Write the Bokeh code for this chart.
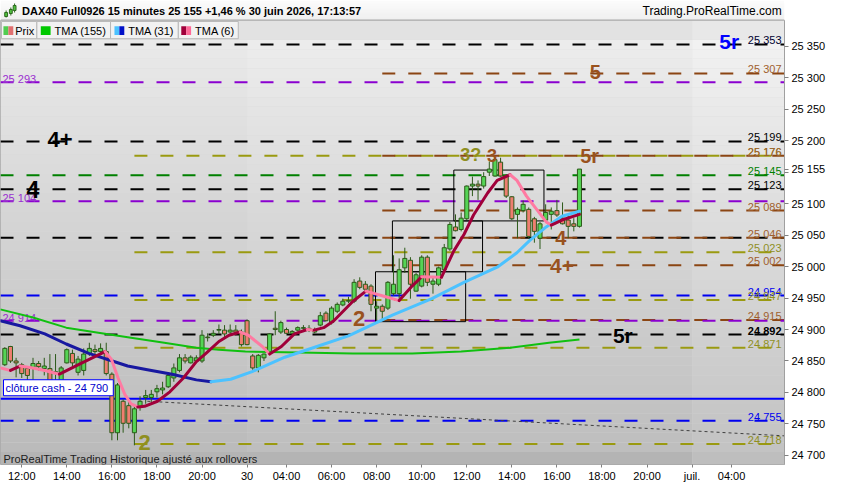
from bokeh.plotting import figure
from bokeh.models import Range1d, FixedTicker, Label
from bokeh.layouts import column
from bokeh.embed import file_html
from bokeh.resources import INLINE
from bokeh.core.properties import value

FONT = "Liberation Sans"

title_text = "DAX40 Full0926 15 minutes 25 155 +1,46 % 30 juin 2026, 17:13:57"
site_text = "Trading.ProRealTime.com"
footer_text = "ProRealTime Trading  Historique ajusté aux rollovers"
cash_text = "clôture cash -  24 790"
cash_price = 24790
last_price = 25155

# 15-minute bars, index 0 = 29 juin 11:15
bar_open = [24844, 24873, 24850, 24844, 24838, 24839, 24846, 24838, 24838, 24830,
            24815, 24847, 24862, 24832, 24835, 24862, 24868, 24865, 24865, 24829,
            24736, 24786, 24779, 24736, 24777, 24792, 24792, 24801, 24804, 24809,
            24823, 24835, 24855, 24847, 24850, 24850, 24888, 24891, 24899, 24899,
            24896, 24899, 24896, 24914, 24858, 24839, 24855, 24865, 24902, 24896,
            24900, 24894, 24899, 24902, 24902, 24896, 24907, 24926, 24911, 24929,
            24939, 24945, 24945, 24977, 24972, 24969, 24934, 24937, 24934, 24957,
            24957, 24998, 25010, 24961, 24969, 25015, 24972, 24972, 24995, 25028,
            25063, 25059, 25076, 25128, 25131, 25128, 25150, 25144, 25166, 25144,
            25111, 25083, 25089, 25091, 25076, 25045, 25074, 25083, 25089, 25077,
            25074, 25068, 25064]
bar_high = [24872, 24874, 24855, 24847, 24842, 24855, 24850, 24855, 24861, 24861,
            24842, 24870, 24868, 24858, 24870, 24879, 24876, 24878, 24879, 24832,
            24815, 24789, 24785, 24779, 24794, 24804, 24804, 24812, 24817, 24832,
            24846, 24861, 24861, 24859, 24859, 24899, 24894, 24899, 24908, 24907,
            24908, 24907, 24900, 24916, 24861, 24861, 24862, 24894, 24929, 24914,
            24903, 24899, 24905, 24907, 24907, 24903, 24928, 24929, 24937, 24943,
            24949, 24952, 24980, 24983, 24977, 24972, 24945, 24940, 24977, 25018,
            25013, 25030, 25015, 24990, 25018, 25018, 24983, 25000, 25036, 25071,
            25083, 25086, 25129, 25143, 25137, 25150, 25167, 25173, 25173, 25147,
            25112, 25094, 25105, 25094, 25079, 25071, 25099, 25094, 25106, 25102,
            25083, 25077, 25155]
bar_low = [24842, 24847, 24824, 24823, 24817, 24817, 24835, 24827, 24812, 24812,
           24812, 24846, 24842, 24827, 24827, 24858, 24861, 24861, 24827, 24724,
           24724, 24736, 24743, 24716, 24771, 24782, 24785, 24792, 24797, 24807,
           24817, 24832, 24846, 24846, 24847, 24847, 24881, 24888, 24893, 24888,
           24891, 24891, 24873, 24875, 24836, 24832, 24850, 24862, 24891, 24893,
           24893, 24893, 24897, 24899, 24896, 24894, 24905, 24913, 24908, 24926,
           24937, 24942, 24942, 24964, 24961, 24929, 24914, 24914, 24931, 24954,
           24949, 24990, 24949, 24960, 24967, 24969, 24957, 24969, 24992, 25025,
           25056, 25056, 25074, 25112, 25106, 25124, 25144, 25143, 25143, 25109,
           25074, 25045, 25086, 25045, 25038, 25028, 25071, 25059, 25079, 25067,
           25045, 25056, 25062]
bar_close = [24870, 24850, 24847, 24830, 24827, 24846, 24841, 24842, 24817, 24833,
             24839, 24868, 24847, 24853, 24861, 24870, 24865, 24870, 24830, 24736,
             24812, 24751, 24751, 24774, 24786, 24795, 24797, 24806, 24807, 24827,
             24839, 24855, 24850, 24856, 24855, 24891, 24887, 24894, 24900, 24893,
             24899, 24896, 24876, 24876, 24839, 24859, 24861, 24893, 24900, 24911,
             24894, 24897, 24903, 24903, 24899, 24899, 24922, 24914, 24934, 24940,
             24945, 24946, 24975, 24967, 24964, 24940, 24937, 24929, 24975, 24972,
             24995, 25013, 24972, 24987, 25015, 24975, 24977, 24998, 25030, 25067,
             25057, 25077, 25128, 25131, 25128, 25143, 25155, 25170, 25144, 25112,
             25076, 25091, 25099, 25048, 25056, 25068, 25086, 25088, 25082, 25068,
             25064, 25064, 25155]

session_starts = [43, 122]  # first bar of 30 juin and of 1 juil.

time_ticks = [3, 11, 19, 27, 35, 43, 50, 58, 66, 74, 82, 90, 98, 106, 114, 122, 129]
time_labels = ["12:00", "14:00", "16:00", "18:00", "20:00", "30", "04:00", "06:00",
               "08:00", "10:00", "12:00", "14:00", "16:00", "18:00", "20:00", "juil.", "04:00"]

price_ticks = [24700, 24750, 24800, 24850, 24900, 24950, 25000, 25050, 25100,
               25150, 25200, 25250, 25300, 25350]
price_hidden = [25150]   # covered by the last-price marker

# moving averages (bar index, price)
tma155_x = [-0.8, 5.0, 10.9, 16.6, 22.4, 28.3, 34.0, 38.0, 42.7, 49.7, 61.8, 72.3, 81.0, 89.7, 96.6, 102]
tma155_y = [24932, 24919, 24903, 24895, 24887, 24879, 24871, 24868, 24865, 24864, 24862, 24862, 24865, 24871, 24879, 24884]

tma31_x = [-0.8, 2.7, 7.1, 10.9, 14.9, 18.4, 21.8, 25.3, 29.7, 34.0, 36.6, 40.1, 43.9, 49.7, 55.4,
           61.0, 68.8, 75.8, 81.5, 87.4, 90.9, 93.1, 96.1, 98.9, 102]
tma31_y = [24914, 24906, 24893, 24877, 24862, 24852, 24842, 24836, 24829, 24820, 24817, 24821, 24833, 24856, 24873,
           24890, 24923, 24949, 24975, 24999, 25022, 25041, 25063, 25080, 25088]

tma6_x = [-0.8, 1.0, 2.7, 5.0, 7.1, 9.7, 13.7, 17.8, 18.9, 20.1, 21.3, 22.4, 23.6, 24.8, 27.1, 29.3,
          31.7, 34.0, 35.7, 38.0, 39.8, 41.8, 43.2, 45.7, 47.0, 49.1, 51.4, 53.7, 54.9, 56.6, 58.4,
          61.8, 64.1, 67.6, 70.0, 72.3, 74.0, 77.5, 79.7, 81.5, 83.2, 85.7, 87.4, 89.7, 90.9, 92.6,
          94.4, 96.1, 97.0, 98.9, 102]
tma6_y = [24839, 24835, 24842, 24839, 24835, 24829, 24847, 24865, 24853, 24823, 24797, 24782, 24777, 24778, 24786, 24801,
          24823, 24849, 24862, 24881, 24891, 24896, 24891, 24873, 24861, 24873, 24893, 24900, 24899, 24903, 24914,
          24945, 24961, 24952, 24946, 24969, 24984, 24983, 25025, 25051, 25082, 25117, 25137, 25146, 25137, 25112,
          25091, 25071, 25066, 25074, 25083]

BLACK, BROWN, OLIVE, PURPLE, BLUE, GREEN = "#000000", "#8b4513", "#9a9a10", "#8a00d0", "#0000f0", "#008000"
BROWN_T, OLIVE_T, PURPLE_T = "#a0602d", "#8f8f1f", "#9a30d0"

# horizontal levels: price, line colour, first bar (None = whole width), label side, label colour
level_price = [25353, 25307, 25293, 25199, 25176, 25176, 25145, 25123, 25104, 25089, 25046, 25046,
               25023, 25002, 24954, 24947, 24915, 24914, 24892, 24871, 24755, 24718]
level_color = [BLACK, BROWN, PURPLE, BLACK, OLIVE, BROWN, GREEN, BLACK, PURPLE, BROWN, BLACK, BROWN,
               OLIVE, BROWN, BLUE, OLIVE, BROWN, PURPLE, BLACK, OLIVE, BLUE, OLIVE]
level_start = [None, 67, None, None, 23, 67, None, None, None, 67, None, 67,
               23, 67, None, 23, 67, None, None, 23, None, 23]
level_side = ["right", "right", "left", "right", "right", "right", "right", "right", "left", "right", None, "right",
              "right", "right", "right", "right", "right", "left", "right", "right", "right", "right"]
level_tcolor = ["#000030", BROWN_T, PURPLE_T, BLACK, OLIVE_T, BROWN_T, GREEN, BLACK, PURPLE_T, BROWN_T, BLACK, BROWN_T,
                OLIVE_T, BROWN_T, BLUE, OLIVE_T, BROWN_T, PURPLE_T, BLACK, OLIVE_T, BLUE, OLIVE_T]
level_bold = [24892]

# wave counts
wave_text = ["5r", "5", "4+", "3?", "3", "5r", "4", "4", "4+", "2", "5r", "2"]
wave_x = [128.6, 104.8, 9.8, 82.7, 86.5, 103.8, 5.0, 98.7, 98.9, 62.9, 109.7, 24.8]
wave_y = [25357, 25310, 25202, 25177, 25177, 25176, 25123, 25045, 25001, 24917, 24890, 24721]
wave_color = ["#0000ff", "#99521e", BLACK, "#8f8f1f", "#99521e", "#99521e", BLACK, "#99521e",
              "#99521e", "#99521e", BLACK, "#8f8f1f"]
wave_size = ["21px", "20px", "22px", "18px", "18px", "20px", "23px", "20px", "21px", "22px", "21px", "22px"]

# rectangles
box_left = [65.8, 68.8, 79.7]
box_right = [81.8, 84.8, 95.7]
box_bottom = [24912.5, 24991.8, 25072.6]
box_top = [24991.8, 25072.6, 25153.4]

# trend line
trend_x = [25.3, 138.4]
trend_y = [24786, 24731]

# ---------------------------------------------------------------- layout
W = 834
HEAD_H = 20
MAIN_H = 484 - HEAD_H
X0, X1 = -0.77, 138.4
Y_BOT, Y_TOP = 24685.5, 25391.1


def rx(px):
    return X0 + px * (X1 - X0) / 798.0


def ry(py):
    return Y_TOP - (py - 20) * (Y_TOP - Y_BOT) / 463.0


def gray(v):
    v = max(0, min(255, int(round(v))))
    return "#%02x%02x%02x" % (v, v, v)


def fmt(v):
    return f"{int(v):,}".replace(",", " ")


# header ----------------------------------------------------------------
h = figure(width=W, height=HEAD_H, x_range=Range1d(0, W), y_range=Range1d(0, HEAD_H),
           toolbar_location=None, output_backend="svg", min_border=0,
           x_axis_location=None, y_axis_location=None, outline_line_color=None)
h.grid.visible = False
hb, ht, hc = [], [], []
for k in range(HEAD_H):
    ht.append(HEAD_H - k)
    hb.append(HEAD_H - k - 1)
    hc.append(gray(251 - 17 * k / (HEAD_H - 1)))
h.quad(left=0, right=W, top=ht, bottom=hb, fill_color=hc, line_color=None)
h.segment(x0=0, y0=0.5, x1=W, y1=0.5, line_color="#a8a8a8", line_width=1)
h.segment(x0=[6, 11, 15], y0=[3, 5, 8], x1=[6, 11, 15], y1=[10, 13, 17], line_color="#2e6a1e", line_width=1)
h.quad(left=[4.5, 9.5, 13.5], right=[7.5, 12.5, 16.5], bottom=[4, 7, 10], top=[8, 11, 15],
       fill_color="#50c040", line_color="#2e6a1e")
h.text(x=[23], y=[10], text=[title_text], text_font=value(FONT), text_font_size="11px",
       text_font_style="bold", text_baseline="middle", text_color="#000000")
h.text(x=[W - 3], y=[10], text=[site_text], text_font=value(FONT), text_font_size="12px",
       text_align="right", text_baseline="middle", text_color="#000000")

# main chart --------------------------------------------------------------
p = figure(width=W, height=MAIN_H, x_range=Range1d(X0, X1), y_range=Range1d(Y_BOT, Y_TOP),
           y_axis_location="right", toolbar_location=None, output_backend="svg",
           min_border_left=0, min_border_top=0, min_border_right=50, min_border_bottom=17,
           background_fill_color="#d8d8d8", border_fill_color="white",
           outline_line_color="#a8a8a8")
p.grid.visible = False

# background gradient by day
cols = [(X0, session_starts[0], -3), (session_starts[0], session_starts[1], 0), (session_starts[1], X1, 5)]
L, R, B, T, C = [], [], [], [], []
for (xa, xb, off) in cols:
    for k in range(43):
        py0 = 40 + 10 * k
        L.append(xa); R.append(xb)
        T.append(ry(py0)); B.append(ry(py0 + 10))
        C.append(gray(236 - 46 * k / 42 + off))
foot = [(X0, session_starts[1], 0), (session_starts[1], X1, 10)]
for (xa, xb, off) in foot:
    L.append(xa); R.append(xb); T.append(ry(470)); B.append(ry(483)); C.append(gray(180 + off))
    L.append(xa); R.append(xb); T.append(ry(20)); B.append(ry(40)); C.append(gray(226 + off * 0.6))
p.quad(left=L, right=R, top=T, bottom=B, fill_color=C, line_color=None)

# levels
lx0 = [X0 if s is None else s for s in level_start]
p.segment(x0=lx0, y0=level_price, x1=[X1] * len(level_price), y1=level_price,
          line_color=level_color, line_width=2, line_dash="13 13")
p.segment(x0=[X0], y0=[cash_price], x1=[X1], y1=[cash_price], line_color="#0000ff", line_width=2)
p.line(trend_x, trend_y, line_color="#404040", line_width=1, line_dash="3 3")

# level labels
for side in ("right", "left"):
    idx = [k for k in range(len(level_price)) if level_side[k] == side]
    for bold in (False, True):
        sel = [k for k in idx if (level_price[k] in level_bold) == bold]
        if not sel:
            continue
        p.text(x=[X1 if side == "right" else X0] * len(sel), y=[level_price[k] for k in sel],
               text=[fmt(level_price[k]) for k in sel], text_color=[level_tcolor[k] for k in sel],
               text_font=value(FONT), text_font_size="11px",
               text_font_style="bold" if bold else "normal",
               text_align="right" if side == "right" else "left", text_baseline="alphabetic",
               x_offset=-3 if side == "right" else 2, y_offset=-4 if side == "right" else -3)

# rectangles
p.quad(left=box_left, right=box_right, bottom=box_bottom, top=box_top,
       fill_color=None, line_color="#000000", line_width=1)

# candles
n = len(bar_open)
xi = list(range(n))
p.segment(x0=xi, y0=bar_low, x1=xi, y1=bar_high, line_color="#2d5a1a", line_width=1)
body_top = [max(o, c) for o, c in zip(bar_open, bar_close)]
body_bot = [min(o, c) for o, c in zip(bar_open, bar_close)]
body_col = ["#55d455" if c >= o else "#ee7e70" for o, c in zip(bar_open, bar_close)]
p.vbar(x=xi, top=body_top, bottom=body_bot, width=0.72, fill_color=body_col,
       line_color="#2d5a1a", line_width=1)


def colored_runs(xs, ys, up_c, down_c):
    out = []
    cx, cy, cc = [xs[0]], [ys[0]], None
    for k in range(1, len(xs)):
        c = up_c if ys[k] >= ys[k - 1] else down_c
        if cc is None or c == cc:
            cx.append(xs[k]); cy.append(ys[k]); cc = c
        else:
            out.append((cx, cy, cc))
            cx, cy, cc = [xs[k - 1], xs[k]], [ys[k - 1], ys[k]], c
    out.append((cx, cy, cc))
    return out


p.line(tma155_x, tma155_y, line_color="#10c010", line_width=2, line_join="round")
for (sx, sy, c) in colored_runs(tma31_x, tma31_y, "#4cc2ff", "#1818a0"):
    p.line(sx, sy, line_color=c, line_width=3, line_join="round", line_cap="round")
for (sx, sy, c) in colored_runs(tma6_x, tma6_y, "#a0003a", "#ff7aa2"):
    p.line(sx, sy, line_color=c, line_width=3, line_join="round", line_cap="round")

# wave labels
p.text(x=wave_x, y=wave_y, text=wave_text, text_color=wave_color, text_font=value(FONT),
       text_font_size=wave_size, text_font_style="bold", text_align="center", text_baseline="middle")

# legend row
lg_l = [1, 37, 112, 181]
lg_r = [37, 112, 181, 242]
p.quad(left=[rx(v) for v in lg_l], right=[rx(v) for v in lg_r], top=ry(21), bottom=ry(39),
       fill_color="#f2f2f2", line_color="#b8b8b8")
ic_l = [3, 8, 41, 116, 121, 184, 189]
ic_r = [8, 13, 51, 121, 126, 189, 194]
ic_c = ["#50cc50", "#e07070", "#00c800", "#4cc2ff", "#0010c8", "#a0003a", "#ff6a98"]
p.quad(left=[rx(v) for v in ic_l], right=[rx(v) for v in ic_r], top=ry(26), bottom=ry(35),
       fill_color=ic_c, line_color=None)
lg_text = ["Prix", "TMA (155)", "TMA (31)", "TMA (6)"]
lg_tx = [15, 55, 130, 198]
p.text(x=[rx(v) for v in lg_tx], y=[ry(30.5)] * 4, text=lg_text, text_font=value(FONT),
       text_font_size="11px", text_baseline="middle", text_color="#000000")

# footer text
p.text(x=[rx(3)], y=[ry(477)], text=[footer_text], text_font=value(FONT), text_font_size="11px",
       text_baseline="middle", text_color="#202020")

# cash label
p.add_layout(Label(x=X0, y=cash_price, text=cash_text, x_offset=3, y_offset=3,
                   text_font=FONT, text_font_size="11px", text_color="#0000cc",
                   background_fill_color="white", border_line_color="#0000ff", border_line_width=1,
                   padding=2, text_baseline="bottom"))

# axes
y_ticks = sorted(price_ticks + [last_price])
y_over = {}
for t in y_ticks:
    y_over[t] = "" if t in price_hidden else fmt(t)
p.yaxis.ticker = FixedTicker(ticks=y_ticks)
p.yaxis.major_label_overrides = y_over
p.yaxis.minor_tick_line_color = None
p.yaxis.major_tick_in = 0
p.yaxis.major_tick_out = 4
p.yaxis.axis_line_color = "#a0a0a0"
p.yaxis.major_tick_line_color = "#808080"
p.yaxis.major_label_text_font = FONT
p.yaxis.major_label_text_font_size = "11px"
p.yaxis.major_label_text_color = "#000000"
p.yaxis.major_label_standoff = 3

p.xaxis.ticker = FixedTicker(ticks=time_ticks)
p.xaxis.major_label_overrides = {t: lab for t, lab in zip(time_ticks, time_labels)}
p.xaxis.minor_tick_line_color = None
p.xaxis.major_tick_in = 0
p.xaxis.major_tick_out = 3
p.xaxis.axis_line_color = None
p.xaxis.major_tick_line_color = "#808080"
p.xaxis.major_label_text_font = FONT
p.xaxis.major_label_text_font_size = "11px"
p.xaxis.major_label_text_color = "#000000"
p.xaxis.major_label_standoff = 2

layout = column(h, p)
with open("out.html", "w", encoding="utf-8") as f:
    f.write(file_html(layout, INLINE))
